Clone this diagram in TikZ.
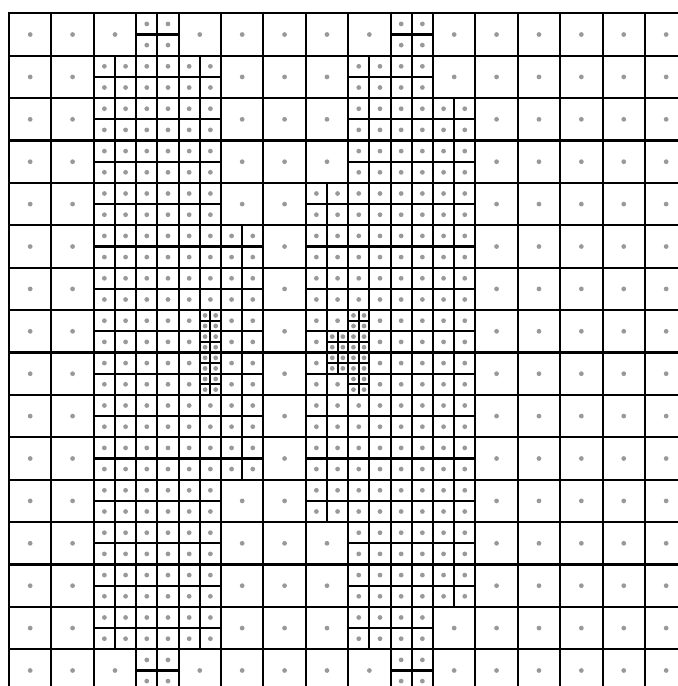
\documentclass[tikz,border=0pt]{standalone}
\usepackage{tikz}
\usetikzlibrary{%
  calc%
}

\tikzset{
  meshline/.style={black,line width=1.4pt},
  centre/.style={fill=black!40}
}
\newcommand{\splitcell}[3]{%
  \fill[white] ({#1},{#2}) rectangle ++({#3},{#3});
  \draw[meshline] ({#1},{#2}) rectangle ++({#3},{#3})
  ({#1+0.5*#3},{#2}) -- ++(0,{#3})
  ({#1},{#2+0.5*#3}) -- ++({#3},0);
  \foreach \dx/\dy in {0.25/0.25,0.75/0.25,0.25/0.75,0.75/0.75}
  \fill[centre] ({#1+\dx*#3},{#2+\dy*#3}) circle (1.6pt);
}

\begin{document}
\begin{tikzpicture}
      \useasboundingbox (-0.212,0.314) rectangle (15.778,-15.866);
      \clip (-0.212,0.314) rectangle (15.778,-15.866);
      \fill[white] (-0.212,0.314) rectangle (15.778,-15.866);
      \foreach \i in {0,...,15}
      \foreach \j in {0,...,15}
      {\draw[meshline] (\i,-\j-1) rectangle ++(1,1);
        \fill[centre] (\i+0.5,-\j-0.5) circle (1.6pt);}
      \foreach \j/\cols in {0/{3,9},1/{2,3,4,8,9},2/{2,3,4,8,9,10},
        3/{2,3,4,8,9,10},4/{2,3,4,7,8,9,10},5/{2,3,4,5,7,8,9,10},
        6/{2,3,4,5,7,8,9,10},7/{2,3,4,5,7,8,9,10},8/{2,3,4,5,7,8,9,10},
        9/{2,3,4,5,7,8,9,10},10/{2,3,4,5,7,8,9,10},11/{2,3,4,7,8,9,10},
        12/{2,3,4,8,9,10},13/{2,3,4,8,9,10},14/{2,3,4,8,9},15/{3,9}}
      {\foreach \i in \cols {\splitcell{\i}{-\j-1}{1}}}
      \foreach \a/\b in {9/14,9/15,9/16,9/17,16/14,16/15,16/16,16/17,
        15/15,15/16}
      {\splitcell{\a/2}{-(\b+1)/2}{0.5}}
    \end{tikzpicture}
\end{document}
